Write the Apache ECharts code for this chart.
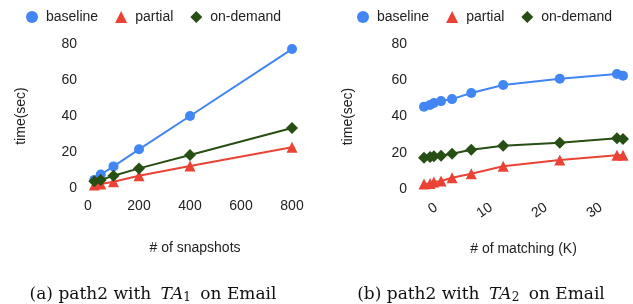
<!DOCTYPE html>
<html lang="en">
<head>
    <meta charset="UTF-8">
    <title>path2 timing</title>
    <script src="https://cdn.jsdelivr.net/npm/echarts@6.0.0/dist/echarts.min.js"></script>
    <style>
        html, body { margin: 0; padding: 0; background: #fff; }
        #container { width: 633px; height: 304px; }
    </style>
</head>
<body>
<div id="container"></div>
<script type="text/javascript">
    // (a) # of snapshots
    var snapX = [25, 50, 100, 200, 400, 800];
    var snapBaseline = [4.5, 7.5, 12, 21.5, 40, 77.2];
    var snapPartial = [1.7, 2.2, 3.5, 6.8, 12.2, 22.6];
    var snapOnDemand = [3.7, 4.5, 6.8, 10.9, 18.3, 33.3];
    var snapTicks = [0, 200, 400, 600, 800];

    // (b) # of matching (K)
    var matchX = [-2.2, -1.1, -0.4, 0.9, 2.9, 6.4, 12.2, 22.5, 32.9, 34];
    var matchBaseline = [45.4, 46.3, 47.4, 48.5, 49.6, 53, 57.4, 60.8, 63.4, 62.5];
    var matchPartial = [2.8, 3.1, 3.9, 4.4, 6.2, 8.4, 12.5, 16, 18.6, 18.6];
    var matchOnDemand = [17.2, 17.6, 18.1, 18.4, 19.5, 21.7, 23.8, 25.5, 28.0, 27.6];
    var matchTicks = [0, 10, 20, 30];

    var timeTicks = [0, 20, 40, 60, 80];

    var names = ['baseline', 'partial', 'on-demand'];
    var colors = ['#4285f4', '#ea4335', '#274e13'];
    var symbols = ['circle', 'triangle', 'diamond'];
    var sizes = [10, 11, 12];

    var font = 'Arial, "Liberation Sans", sans-serif';
    var serif = '"DejaVu Serif", serif';

    function pairs(xs, ys) {
        var out = [];
        for (var i = 0; i < xs.length; i++) out.push([xs[i], ys[i]]);
        return out;
    }

    function makeSeries(idx, xs, ys, k) {
        return {
            name: names[k],
            type: 'line',
            xAxisIndex: idx,
            yAxisIndex: idx,
            data: pairs(xs, ys),
            symbol: symbols[k],
            symbolSize: sizes[k],
            showAllSymbol: true,
            clip: false,
            z: k == 2 ? 4 : 3 - k,
            itemStyle: { color: colors[k] },
            lineStyle: { color: colors[k], width: 2 }
        };
    }

    function legend(left) {
        var data = [];
        for (var k = 0; k < names.length; k++) {
            data.push({ name: names[k], icon: symbols[k] });
        }
        return {
            left: left,
            top: 10,
            padding: 0,
            data: data,
            itemWidth: 12,
            itemHeight: 12,
            itemGap: 17,
            textStyle: { fontFamily: font, fontSize: 14, color: '#222', padding: [0, 0, 0, 3] }
        };
    }

    function yAxis(idx, gap, margin) {
        return {
            type: 'value',
            gridIndex: idx,
            min: 0, max: 80, interval: 20,
            name: 'time(sec)',
            nameLocation: 'middle',
            nameRotate: 90,
            nameGap: gap,
            nameTextStyle: { fontFamily: font, fontSize: 14, color: '#222' },
            axisLine: { show: false },
            axisTick: { show: false },
            splitLine: { show: false },
            axisLabel: { fontFamily: font, fontSize: 14, color: '#222', margin: margin,
                customValues: timeTicks }
        };
    }

    function caption(text, x) {
        return {
            text: text,
            left: x, top: 285, textAlign: 'center', padding: 0,
            textStyle: {
                fontFamily: serif, fontSize: 17, fontWeight: 'normal', color: '#111',
                rich: {
                    i: { fontFamily: serif, fontSize: 17, fontStyle: 'italic', color: '#111', padding: [0, 0, 0, 4] },
                    s: { fontFamily: serif, fontSize: 12, color: '#111', padding: [7, 4, 0, 0] }
                }
            }
        };
    }

    var dom = document.getElementById('container');
    var myChart = echarts.init(dom, null, { renderer: 'canvas' });
    var option = {
        animation: false,
        backgroundColor: '#fff',
        color: colors,
        legend: [legend(26), legend(357)],
        title: [
            caption('(a) path2 with {i|TA}{s|1} on Email', 153),
            caption('(b) path2 with {i|TA}{s|2} on Email', 481)
        ],
        grid: [
            { left: 88, right: 341, top: 44, bottom: 116 },
            { left: 424, right: 10, top: 44, bottom: 115 }
        ],
        xAxis: [
            {
                type: 'value', gridIndex: 0,
                min: 0, max: 800, interval: 200,
                name: '# of snapshots',
                nameLocation: 'middle',
                nameGap: 53,
                nameTextStyle: { fontFamily: font, fontSize: 14, color: '#222', padding: [0, 0, 0, 10] },
                axisLine: { show: false },
                axisTick: { show: false },
                splitLine: { show: false },
                axisLabel: { fontFamily: font, fontSize: 14, color: '#222', margin: 11,
                    customValues: snapTicks }
            },
            {
                type: 'value', gridIndex: 1,
                min: -2.2, max: 34,
                name: '# of matching (K)',
                nameLocation: 'middle',
                nameGap: 53,
                nameTextStyle: { fontFamily: font, fontSize: 14, color: '#222' },
                axisLine: { show: false },
                axisTick: { show: false },
                splitLine: { show: false },
                axisLabel: { fontFamily: font, fontSize: 14, color: '#222', margin: 17, rotate: 35,
                    customValues: matchTicks }
            }
        ],
        yAxis: [yAxis(0, 60, 11), yAxis(1, 69, 17)],
        series: [
            makeSeries(0, snapX, snapBaseline, 0),
            makeSeries(0, snapX, snapPartial, 1),
            makeSeries(0, snapX, snapOnDemand, 2),
            makeSeries(1, matchX, matchBaseline, 0),
            makeSeries(1, matchX, matchPartial, 1),
            makeSeries(1, matchX, matchOnDemand, 2)
        ]
    };
    myChart.setOption(option, true);
</script>
</body>
</html>
